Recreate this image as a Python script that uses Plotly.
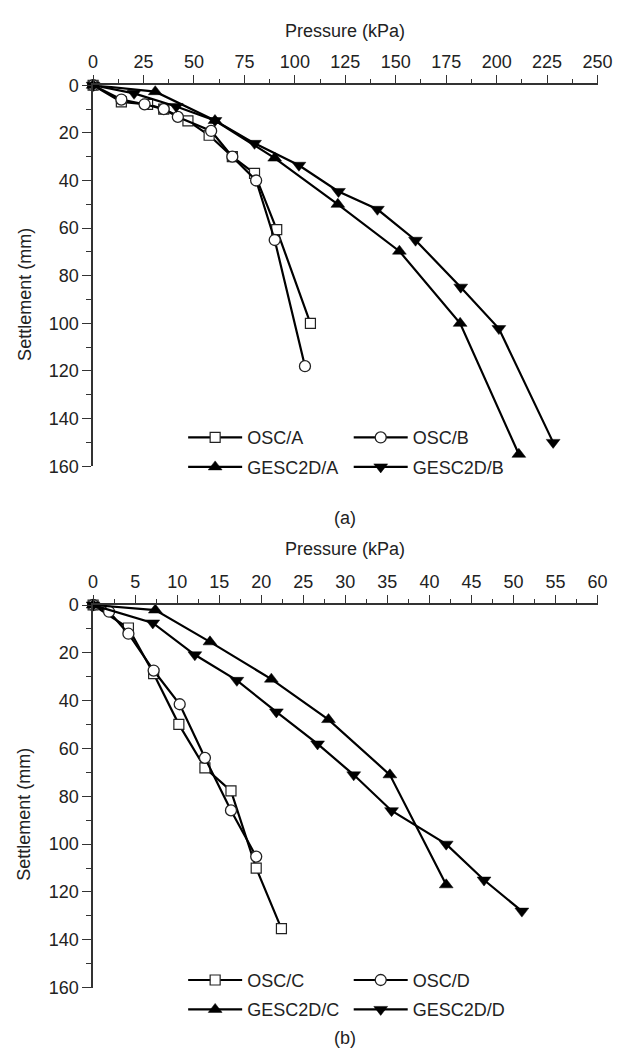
import plotly.graph_objects as go

W, H = 629, 1057

# ---------------- data: chart (a) ----------------
osc_a_x = [0, 14, 27, 35, 47, 57.5, 69, 80, 91, 107.7]
osc_a_y = [0, 7, 8, 10, 15, 21, 30, 37, 60.6, 100]
osc_b_x = [0, 14, 25.5, 35, 42, 58.5, 69, 80.8, 90, 105]
osc_b_y = [0, 6, 8, 10, 13.3, 19.2, 30, 40, 65, 118]
gesc_a_x = [0, 30.8, 60.4, 90, 121.3, 151.8, 181.9, 211]
gesc_a_y = [0, 2.7, 14.8, 30.6, 50, 69.7, 100, 155]
gesc_b_x = [0, 20.3, 41.2, 60.4, 80, 102, 121.6, 140.9, 159.8, 182.2, 201.1, 228]
gesc_b_y = [0, 3.4, 8.9, 14.8, 24.4, 33.6, 44.6, 52.1, 65.1, 84.8, 102.2, 150]

# ---------------- data: chart (b) ----------------
osc_c_x = [0, 4.2, 7.2, 10.2, 13.3, 16.4, 19.4, 22.4]
osc_c_y = [0, 9.6, 28.7, 49.9, 68.1, 77.7, 110, 135.3]
osc_d_x = [0, 1.9, 4.2, 7.2, 10.3, 13.3, 16.4, 19.4]
osc_d_y = [0, 2.8, 12, 27.4, 41.5, 63.9, 85.9, 105.2]
gesc_c_x = [0, 7.4, 13.9, 21.2, 28, 35.3, 42]
gesc_c_y = [0, 2.1, 15.4, 31, 47.9, 71, 117]
gesc_d_x = [0, 7.1, 12.1, 17.1, 21.8, 26.7, 31, 35.5, 42, 46.5, 51]
gesc_d_y = [0, 7.5, 20.8, 31.5, 44.7, 58.1, 71, 86, 100, 115, 128]

top_ticks = [0, 25, 50, 75, 100, 125, 150, 175, 200, 225, 250]
bot_ticks = [0, 5, 10, 15, 20, 25, 30, 35, 40, 45, 50, 55, 60]
y_ticks = [0, 20, 40, 60, 80, 100, 120, 140, 160]

FONT = "Liberation Sans, Arial, sans-serif"
FS = 18
LINE = dict(color="black", width=2.2)


def px_x(p):
    return p / W


def px_y(p):
    return 1 - p / H


styles = {
    "sq": dict(symbol="square", size=10, color="white", line=dict(color="#222", width=1.2)),
    "ci": dict(symbol="circle", size=11, color="white", line=dict(color="#222", width=1.3)),
    "up": dict(symbol="triangle-up", size=12, color="black", line=dict(color="black", width=0.5)),
    "dn": dict(symbol="triangle-down", size=12, color="black", line=dict(color="black", width=0.5)),
}

fig = go.Figure()

series = [
    (osc_a_x, osc_a_y, "OSC/A", "sq", "x", "y", "legend"),
    (osc_b_x, osc_b_y, "OSC/B", "ci", "x", "y", "legend2"),
    (gesc_a_x, gesc_a_y, "GESC2D/A", "up", "x", "y", "legend3"),
    (gesc_b_x, gesc_b_y, "GESC2D/B", "dn", "x", "y", "legend4"),
    (osc_c_x, osc_c_y, "OSC/C", "sq", "x2", "y2", "legend5"),
    (osc_d_x, osc_d_y, "OSC/D", "ci", "x2", "y2", "legend6"),
    (gesc_c_x, gesc_c_y, "GESC2D/C", "up", "x2", "y2", "legend7"),
    (gesc_d_x, gesc_d_y, "GESC2D/D", "dn", "x2", "y2", "legend8"),
]

for xs, ys, name, st, xa, ya, lg in series:
    fig.add_trace(go.Scatter(
        x=xs, y=ys, name=name, mode="lines+markers",
        line=LINE, marker=styles[st], xaxis=xa, yaxis=ya,
        legend=lg, cliponaxis=False, showlegend=True,
    ))

x_dom = [px_x(91), px_x(612)]
top_dom = [px_y(465), px_y(76.7)]
bot_dom = [px_y(996.5), px_y(606.5)]

axis_common = dict(
    showline=True, linecolor="#333", linewidth=1.5, mirror=False,
    showgrid=False, zeroline=False, ticks="outside", tickcolor="#333",
    tickwidth=1.3, tickfont=dict(family=FONT, size=FS, color="#222"),
)

fig.update_layout(
    xaxis=dict(domain=x_dom, anchor="y", side="top", range=[0, 250],
               tickvals=top_ticks, ticklen=8,
               minor=dict(dtick=12.5, ticks="outside", ticklen=4.5, tickcolor="#333", tickwidth=1.2),
               **axis_common),
    yaxis=dict(domain=top_dom, anchor="x", range=[160, 0], tickvals=y_ticks, ticklen=9,
               minor=dict(dtick=10, ticks="outside", ticklen=5.5, tickcolor="#333", tickwidth=1.2),
               **axis_common),
    xaxis2=dict(domain=x_dom, anchor="y2", side="top", range=[0, 60],
                tickvals=bot_ticks, ticklen=8,
                minor=dict(dtick=2.5, ticks="outside", ticklen=4.5, tickcolor="#333", tickwidth=1.2),
                **axis_common),
    yaxis2=dict(domain=bot_dom, anchor="x2", range=[160, 0], tickvals=y_ticks, ticklen=9,
                minor=dict(dtick=10, ticks="outside", ticklen=5.5, tickcolor="#333", tickwidth=1.2),
                **axis_common),
    width=W, height=H, margin=dict(l=0, r=0, t=0, b=0),
    paper_bgcolor="white", plot_bgcolor="white",
    font=dict(family=FONT, size=FS, color="#222"),
)

# legends: one per trace, placed in two columns / two rows under each chart
leg_pos = {
    "legend": (188, 436), "legend2": (359, 436), "legend3": (188, 466), "legend4": (359, 466),
    "legend5": (188, 989), "legend6": (359, 989), "legend7": (188, 1019), "legend8": (359, 1019),
}
for key, (lx, ly) in leg_pos.items():
    fig.update_layout({key: dict(
        x=px_x(lx - 4), y=px_y(ly), xanchor="left", yanchor="middle",
        bgcolor="rgba(0,0,0,0)", borderwidth=0,
        font=dict(family=FONT, size=FS, color="#222"), itemwidth=54,
        orientation="h",
    )})

annots = [
    ("Pressure (kPa)", 351.5, 21, 0),
    ("Pressure (kPa)", 351.5, 549, 0),
    ("(a)", 351.5, 518, 0),
    ("(b)", 351.5, 1048, 0),
    ("Settlement (mm)", 20, 290, -90),
    ("Settlement (mm)", 20, 820, -90),
]
for text, ax_, ay_, ang in annots:
    fig.add_annotation(text=text, x=px_x(ax_), y=px_y(ay_), xref="paper", yref="paper",
                       showarrow=False, textangle=ang, xanchor="center", yanchor="middle",
                       font=dict(family=FONT, size=FS, color="#222"))

fig.write_html("out.html")
